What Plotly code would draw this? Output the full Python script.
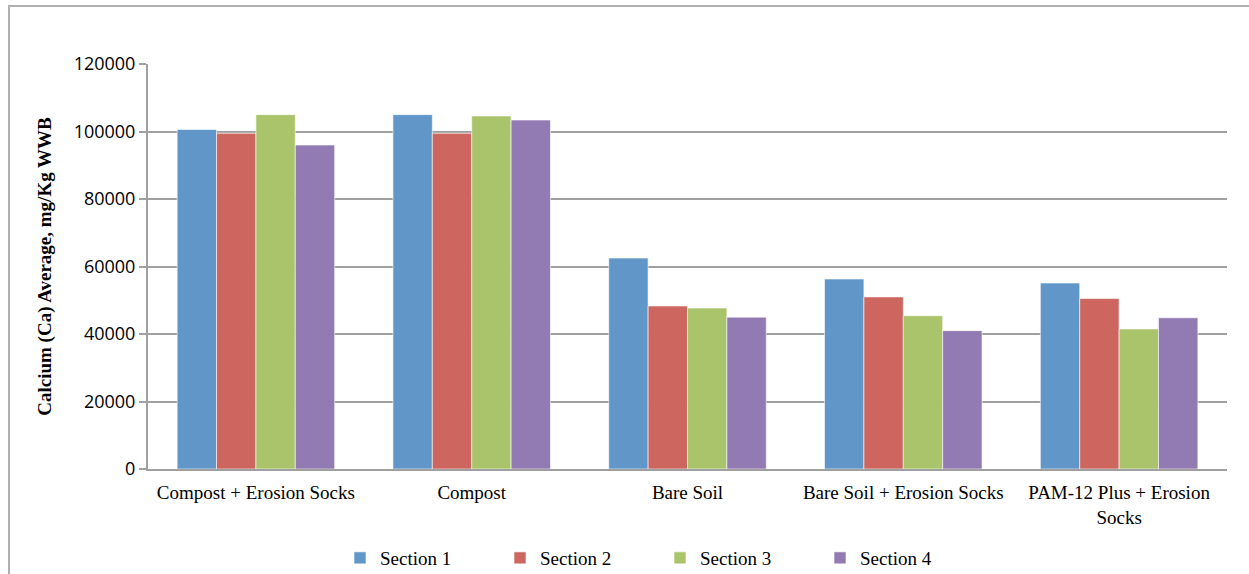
import plotly.graph_objects as go

categories = ["Compost + Erosion Socks", "Compost", "Bare Soil", "Bare Soil + Erosion Socks",
              "PAM-12 Plus + Erosion<br>Socks"]
section1 = [100600, 105000, 62500, 56300, 55100]
section2 = [99500, 99500, 48300, 51000, 50500]
section3 = [105000, 104600, 47700, 45400, 41500]
section4 = [96000, 103400, 45000, 41000, 44800]
series_names = ["Section 1", "Section 2", "Section 3", "Section 4"]
colors = ["#6096C8", "#CD665F", "#AAC46B", "#927AB2"]
y_ticks = [0, 20000, 40000, 60000, 80000, 100000, 120000]

fig = go.Figure()
for name, vals, col in zip(series_names, [section1, section2, section3, section4], colors):
    fig.add_trace(go.Bar(x=categories, y=vals, name=name,
                         marker=dict(color=col, line=dict(color="rgba(255,255,255,0.6)", width=1))))

L, R, T, B = 148, 22, 64, 105
W, H = 1249, 574
pw, ph = W - L - R, H - T - B

fig.update_layout(
    width=W, height=H,
    margin=dict(l=L, r=R, t=T, b=B, autoexpand=False),
    paper_bgcolor="white", plot_bgcolor="white",
    barmode="group", bargap=0.27, bargroupgap=0,
    font=dict(family="Liberation Serif", color="black", size=19),
    xaxis=dict(showline=True, linecolor="#A0A0A0", linewidth=2, ticks="",
               tickfont=dict(family="Liberation Serif", size=19), showgrid=False, ticklabelstandoff=5),
    yaxis=dict(range=[0, 120000], tickvals=y_ticks, ticktext=[str(v) for v in y_ticks],
               showline=True, linecolor="#A0A0A0", linewidth=2, ticks="outside", ticklen=7, tickcolor="#A0A0A0",
               tickwidth=2, gridcolor="#A0A0A0", gridwidth=1.5,
               tickfont=dict(family="Open Sans", size=18), zeroline=False,
               title=dict(text="<b>Calcium (Ca) Average, mg/Kg WWB</b>",
                          font=dict(family="Liberation Serif", size=19), standoff=17)),
    legend=dict(orientation="h", x=(340 - L) / pw, xanchor="left", y=-(558 - (H - B)) / ph, yanchor="middle",
                font=dict(family="Liberation Serif", size=19), itemwidth=30, traceorder="normal",
                entrywidth=115, entrywidthmode="pixels", bgcolor="rgba(0,0,0,0)"),
    showlegend=True,
)

# outer chart frame
fig.add_shape(type="rect", xref="paper", yref="paper",
              x0=(9 - L) / pw, x1=(W + 5 - L) / pw, y0=-(H + 5 - T - ph) / ph, y1=(H - 6 - B) / ph,
              line=dict(color="#B0B0B0", width=2), fillcolor="rgba(0,0,0,0)", layer="below")

fig.write_html("out.html")
